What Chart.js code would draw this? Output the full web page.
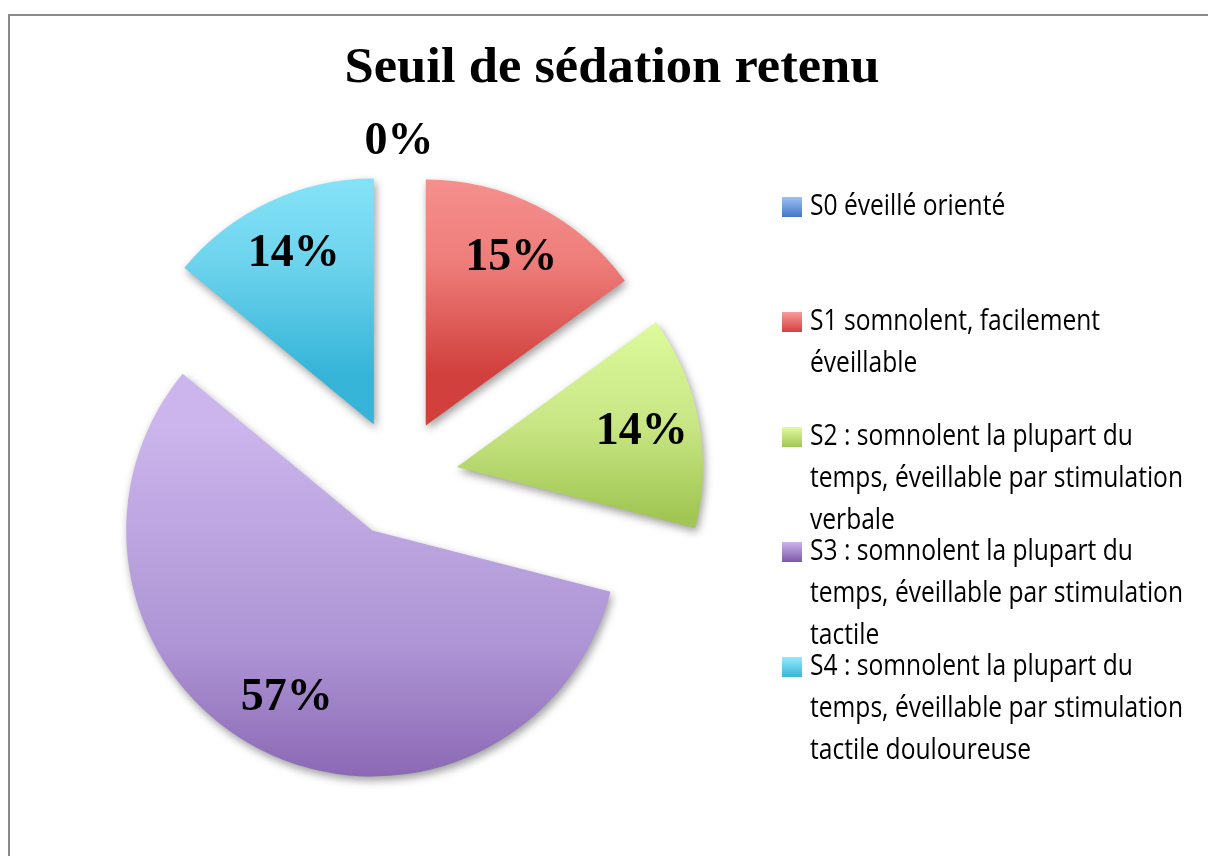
<!DOCTYPE html>
<html>
<head>
<meta charset="utf-8">
<script src="https://cdn.jsdelivr.net/npm/chart.js@4/dist/chart.umd.min.js"></script>
<style>
  html, body { margin: 0; padding: 0; background: #ffffff; }
  #wrap { width: 1208px; height: 856px; position: relative; }
</style>
</head>
<body>
<div id="wrap"><canvas id="c" width="1208" height="856"></canvas></div>
<script>
// ---- data ----
const chartTitle = "Seuil de sédation retenu";
const categories = [
  "S0 éveillé orienté",
  "S1 somnolent, facilement éveillable",
  "S2 : somnolent la plupart du temps, éveillable par stimulation verbale",
  "S3 : somnolent la plupart du temps, éveillable par stimulation tactile",
  "S4 : somnolent la plupart du temps, éveillable par stimulation tactile douloureuse"
];
const values = [0, 15, 14, 57, 14];
const colorsTop = ["#9DC0F7", "#FA9B99", "#DFFC9F", "#CBB5EC", "#93ECFE"];
const colorsMid = ["#7BA2E4", "#EE7D7A", "#C8E684", "#AD94D4", "#6ED4EE"];
const colorsBottom = ["#4377C6", "#D1403D", "#A1C653", "#7E57A8", "#37B5D8"];

// ---- style constants ----
const RADIUS = 246;
const EXPLODE = 59;

// Exploded slices: translate every arc outward by the same distance, with a soft shadow
const baseArcDraw = Chart.ArcElement.prototype.draw;
Chart.ArcElement.prototype.draw = function (ctx) {
  const h = (this.startAngle + this.endAngle) / 2;
  ctx.save();
  ctx.translate(Math.cos(h) * EXPLODE, Math.sin(h) * EXPLODE);
  ctx.shadowColor = "rgba(0,0,0,0.38)";
  ctx.shadowBlur = 9;
  ctx.shadowOffsetX = 2;
  ctx.shadowOffsetY = 4;
  baseArcDraw.call(this, ctx);
  ctx.restore();
};

function sliceGradient(c) {
  const chart = c.chart;
  const area = chart.chartArea;
  const i = c.dataIndex;
  if (!area) return colorsTop[i];
  const total = values.reduce((a, b) => a + b, 0);
  let before = 0;
  for (let k = 0; k < i; k++) before += values[k];
  const start = -Math.PI / 2 + before / total * 2 * Math.PI;
  const end = start + values[i] / total * 2 * Math.PI;
  const mid = (start + end) / 2;
  const cy = (area.top + area.bottom) / 2 + Math.sin(mid) * EXPLODE;
  let minY = cy, maxY = cy;
  for (let s = 0; s <= 60; s++) {
    const a = start + (end - start) * s / 60;
    const y = cy + Math.sin(a) * RADIUS;
    minY = Math.min(minY, y); maxY = Math.max(maxY, y);
  }
  const g = chart.ctx.createLinearGradient(0, minY, 0, maxY);
  g.addColorStop(0, colorsTop[i]);
  g.addColorStop(0.55, colorsMid[i]);
  g.addColorStop(1, colorsBottom[i]);
  return g;
}

const decorPlugin = {
  id: "decor",
  beforeDraw(chart) {
    const ctx = chart.ctx;
    ctx.save();
    ctx.strokeStyle = "#8a8a8a";
    ctx.lineWidth = 2;
    ctx.beginPath();
    ctx.moveTo(9, 856);
    ctx.lineTo(9, 15);
    ctx.lineTo(1208, 15);
    ctx.stroke();
    // title
    ctx.fillStyle = "#000000";
    ctx.font = "bold 50px 'Liberation Serif', 'DejaVu Serif', serif";
    ctx.textBaseline = "alphabetic";
    ctx.textAlign = "center";
    const w = ctx.measureText(chartTitle).width;
    const sx = 535 / w;
    ctx.translate(612, 82);
    ctx.scale(sx, 1);
    ctx.fillText(chartTitle, 0, 0);
    ctx.restore();
  },
  afterDatasetsDraw(chart) {
    const ctx = chart.ctx;
    const meta = chart.getDatasetMeta(0);
    ctx.save();
    ctx.fillStyle = "#000000";
    ctx.font = "bold 46px 'Liberation Serif', 'DejaVu Serif', serif";
    ctx.textAlign = "center";
    ctx.textBaseline = "middle";
    meta.data.forEach((el, i) => {
      const mid = (el.startAngle + el.endAngle) / 2;
      let r;
      if (values[i] === 0) r = RADIUS + EXPLODE + 31;
      else r = EXPLODE + RADIUS * 0.765;
      const x = el.x + Math.cos(mid) * r;
      const y = el.y + Math.sin(mid) * r;
      ctx.fillText(values[i] + "%", x, y);
    });
    ctx.restore();

    // legend
    ctx.save();
    const fontStack = "29px 'Liberation Sans Narrow', 'Open Sans', sans-serif";
    ctx.font = fontStack;
    const refW = ctx.measureText("temps, éveillable par stimulation").width;
    const sx = 373 / refW;
    const maxW = 382;
    const textX = 810;
    categories.forEach((label, i) => {
      const y0 = 207 + 115 * i;
      // marker
      const g = ctx.createLinearGradient(0, y0 - 10, 0, y0 + 10);
      g.addColorStop(0, colorsTop[i]);
      g.addColorStop(1, colorsBottom[i]);
      ctx.fillStyle = g;
      ctx.fillRect(782, y0 - 10, 20, 20);
      // wrap words
      const words = label.split(" ");
      const lines = [];
      let cur = "";
      words.forEach(wd => {
        const test = cur ? cur + " " + wd : wd;
        if (ctx.measureText(test).width * sx > maxW && cur) {
          lines.push(cur); cur = wd;
        } else cur = test;
      });
      if (cur) lines.push(cur);
      ctx.fillStyle = "#000000";
      ctx.textAlign = "left";
      ctx.textBaseline = "middle";
      lines.forEach((ln, k) => {
        ctx.save();
        ctx.translate(textX, y0 + k * 42);
        ctx.scale(sx, 1);
        ctx.fillText(ln, 0, 0);
        ctx.restore();
      });
    });
    ctx.restore();
  }
};

new Chart(document.getElementById("c"), {
  type: "pie",
  data: {
    labels: categories,
    datasets: [{
      data: values,
      backgroundColor: sliceGradient,
      borderWidth: 0,
      radius: RADIUS
    }]
  },
  options: {
    responsive: false,
    devicePixelRatio: 1,
    animation: false,
    layout: { padding: { left: 100, right: 510, top: 178, bottom: 78 } },
    plugins: {
      legend: { display: false },
      title: { display: false },
      tooltip: { enabled: false }
    }
  },
  plugins: [decorPlugin]
});
</script>
</body>
</html>
